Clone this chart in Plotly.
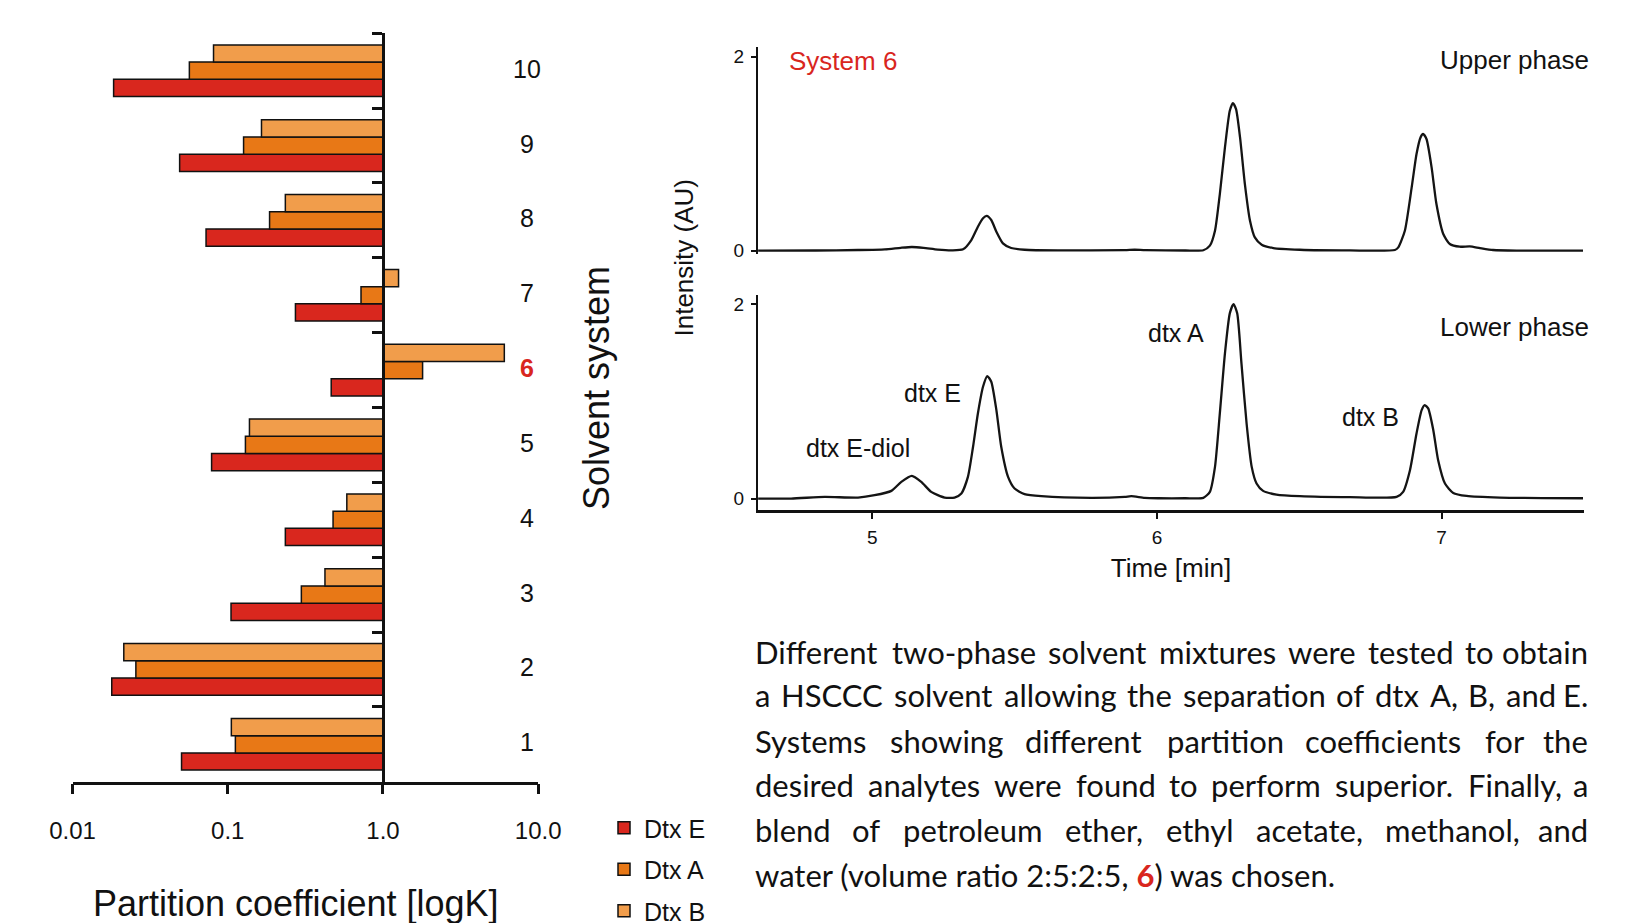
import struct
import subprocess

import numpy as np
import plotly.graph_objects as go

W, H = 1632, 923


def PX(x):
    return x / W


def PY(y):
    return 1 - y / H


# ---------------- data ----------------
systems = [1, 2, 3, 4, 5, 6, 7, 8, 9, 10]
system_labels = ["1", "2", "3", "4", "5", "6", "7", "8", "9", "10"]
dtx_e = [0.0504, 0.0179, 0.105, 0.235, 0.0787, 0.464, 0.273, 0.0725, 0.049, 0.0184]
dtx_a = [0.112, 0.0256, 0.298, 0.477, 0.130, 1.80, 0.722, 0.186, 0.1265, 0.0566]
dtx_b = [0.1055, 0.0214, 0.423, 0.585, 0.138, 6.05, 1.26, 0.235, 0.165, 0.081]
k_tick_vals = [0.01, 0.1, 1.0, 10.0]
k_tick_text = ["0.01", "0.1", "1.0", "10.0"]

upper_time = [4.599, 4.800, 4.950, 5.044, 5.100, 5.139, 5.180, 5.230, 5.280, 5.319,
              5.348, 5.371, 5.389, 5.402, 5.418, 5.436, 5.459, 5.488, 5.535, 5.652,
              5.887, 5.922, 5.960, 6.100, 6.163, 6.186, 6.204, 6.221, 6.239, 6.256,
              6.267, 6.278, 6.292, 6.309, 6.327, 6.344, 6.368, 6.409, 6.502, 6.678,
              6.836, 6.848, 6.871, 6.895, 6.912, 6.926, 6.935, 6.947, 6.965, 6.982,
              7.006, 7.029, 7.064, 7.099, 7.135, 7.181, 7.263, 7.497]
upper_int = [0.000, 0.002, 0.007, 0.014, 0.030, 0.038, 0.030, 0.012, 0.004, 0.014,
             0.110, 0.247, 0.334, 0.358, 0.316, 0.196, 0.076, 0.028, 0.010, 0.003,
             0.006, 0.010, 0.005, 0.002, 0.005, 0.052, 0.206, 0.584, 1.065, 1.443,
             1.522, 1.460, 1.168, 0.687, 0.309, 0.137, 0.062, 0.027, 0.010, 0.003,
             0.007, 0.034, 0.206, 0.653, 0.997, 1.168, 1.203, 1.151, 0.859, 0.481,
             0.172, 0.069, 0.041, 0.045, 0.027, 0.007, 0.000, 0.000]

lower_time = [4.599, 4.715, 4.833, 4.950, 5.008, 5.067, 5.102, 5.139, 5.172, 5.207,
              5.254, 5.289, 5.313, 5.336, 5.354, 5.371, 5.389, 5.404, 5.418, 5.436,
              5.453, 5.477, 5.500, 5.535, 5.594, 5.769, 5.887, 5.910, 5.957, 6.004,
              6.100, 6.163, 6.186, 6.204, 6.221, 6.239, 6.256, 6.269, 6.282, 6.297,
              6.315, 6.333, 6.350, 6.373, 6.420, 6.502, 6.678, 6.842, 6.865, 6.889,
              6.912, 6.930, 6.941, 6.953, 6.971, 6.988, 7.012, 7.041, 7.088, 7.205,
              7.497]
lower_int = [0.000, 0.000, 0.017, 0.010, 0.034, 0.079, 0.172, 0.234, 0.172, 0.069,
             0.010, 0.010, 0.052, 0.223, 0.533, 0.876, 1.151, 1.261, 1.203, 0.911,
             0.533, 0.223, 0.103, 0.045, 0.024, 0.007, 0.017, 0.024, 0.007, 0.003,
             0.003, 0.007, 0.069, 0.326, 0.876, 1.495, 1.907, 2.003, 1.907, 1.392,
             0.773, 0.326, 0.155, 0.079, 0.041, 0.024, 0.014, 0.017, 0.069, 0.292,
             0.670, 0.911, 0.962, 0.928, 0.704, 0.395, 0.155, 0.058, 0.027, 0.010,
             0.003]
time_ticks = [5, 6, 7]
int_ticks = [0, 2]

peak_labels = ["dtx E-diol", "dtx E", "dtx A", "dtx B"]

paragraph_lines = [
    "Different two-phase solvent mixtures were tested to obtain",
    "a HSCCC solvent allowing the separation of dtx A, B, and E.",
    "Systems showing different partition coefficients for the",
    "desired analytes were found to perform superior. Finally, a",
    "blend of petroleum ether, ethyl acetate, methanol, and",
]
last_line_plain = "water (volume ratio 2:5:2:5, 6) was chosen."
last_line = "water (volume ratio 2:5:2:5, <span style='color:#D9261E'><b>6</b></span>) was chosen."

# ---------------- styles / layout positions ----------------
RED = "#D9261E"
C_E, C_A, C_B = "#D9271E", "#E87816", "#F19D4B"
INK = "#111111"
ARIAL = "Liberation Sans, Arial, sans-serif"
PARA_FONT = "Lato"
PARA = "Lato, Noto Sans, sans-serif"
PARA_LEFT, PARA_RIGHT = 753, 1590
LAST_LINE_RIGHT = 1359
line_y = [651.5, 695.3, 740.5, 785.3, 829.8, 874.6]


# ---- text measuring from the installed font file (layout helper only) ----
def _font_widths(family):
    try:
        path = subprocess.run(["fc-match", "-f", "%{file}", family], capture_output=True,
                              text=True, timeout=5).stdout.strip()
        data = open(path, "rb").read()
        ntab = struct.unpack(">H", data[4:6])[0]
        tabs = {}
        for i in range(ntab):
            tag, _, off, ln = struct.unpack(">4sIII", data[12 + 16 * i:28 + 16 * i])
            tabs[tag.decode("latin1")] = off
        upem = struct.unpack(">H", data[tabs["head"] + 18:tabs["head"] + 20])[0]
        nhm = struct.unpack(">H", data[tabs["hhea"] + 34:tabs["hhea"] + 36])[0]
        ho = tabs["hmtx"]
        adv = [struct.unpack(">H", data[ho + 4 * i:ho + 4 * i + 2])[0] for i in range(nhm)]
        co = tabs["cmap"]
        nsub = struct.unpack(">H", data[co + 2:co + 4])[0]
        cmap = {}
        for i in range(nsub):
            pid, eid, soff = struct.unpack(">HHI", data[co + 4 + 8 * i:co + 12 + 8 * i])
            st = co + soff
            if struct.unpack(">H", data[st:st + 2])[0] != 4:
                continue
            seg2 = struct.unpack(">H", data[st + 6:st + 8])[0]
            seg = seg2 // 2
            ends = struct.unpack(">%dH" % seg, data[st + 14:st + 14 + seg2])
            starts = struct.unpack(">%dH" % seg, data[st + 16 + seg2:st + 16 + 2 * seg2])
            deltas = struct.unpack(">%dh" % seg, data[st + 16 + 2 * seg2:st + 16 + 3 * seg2])
            rpos = st + 16 + 3 * seg2
            roffs = struct.unpack(">%dH" % seg, data[rpos:rpos + seg2])
            for s in range(seg):
                for c in range(starts[s], min(ends[s], 0x24F) + 1):
                    if roffs[s] == 0:
                        g = (c + deltas[s]) & 0xFFFF
                    else:
                        a = rpos + 2 * s + roffs[s] + 2 * (c - starts[s])
                        g = struct.unpack(">H", data[a:a + 2])[0]
                        if g:
                            g = (g + deltas[s]) & 0xFFFF
                    cmap[c] = g
            break
        if not cmap:
            raise ValueError

        def w(ch):
            g = cmap.get(ord(ch), 0)
            return adv[min(g, nhm - 1)] / upem
        return w
    except Exception:
        return lambda ch: 0.25 if ch == " " else 0.5


_cw = _font_widths(PARA_FONT)


def text_em(s):
    return sum(_cw(c) for c in s)


# choose the size from the natural-width last line, keep line 1 within the column
para_size = (LAST_LINE_RIGHT - PARA_LEFT) / text_em(last_line_plain)
para_size = min(para_size, (PARA_RIGHT - PARA_LEFT) / text_em(paragraph_lines[0]))
para_size = max(25.0, min(31.0, para_size))

fig = go.Figure()

for name, vals, col in [("Dtx E", dtx_e, C_E), ("Dtx A", dtx_a, C_A), ("Dtx B", dtx_b, C_B)]:
    fig.add_trace(go.Bar(
        y=systems, x=np.log10(vals), orientation="h", name=name,
        legendgroup=name,
        marker=dict(color=col, line=dict(color="#111111", width=1.5)),
        xaxis="x", yaxis="y", hoverinfo="skip",
    ))

fig.add_trace(go.Scatter(x=lower_time, y=lower_int, mode="lines", xaxis="x2", yaxis="y2",
                         line=dict(color="#141414", width=2.3, shape="spline", smoothing=0.6),
                         showlegend=False, hoverinfo="skip"))
fig.add_trace(go.Scatter(x=upper_time, y=upper_int, mode="lines", xaxis="x3", yaxis="y3",
                         line=dict(color="#141414", width=2.3, shape="spline", smoothing=0.6),
                         showlegend=False, hoverinfo="skip"))

ann = []
for s, lab in zip(systems, system_labels):
    is6 = lab == "6"
    ann.append(dict(x=PX(527), xref="paper", y=s, yref="y", text=f"<b>{lab}</b>" if is6 else lab,
                    showarrow=False, xanchor="center", yanchor="middle", yshift=2,
                    font=dict(family=ARIAL, size=25, color=RED if is6 else INK)))
ann.append(dict(x=PX(596), y=PY(388), xref="paper", yref="paper", text="Solvent system",
                textangle=-90, showarrow=False, xanchor="center", yanchor="middle",
                font=dict(family=ARIAL, size=36, color=INK)))
ann.append(dict(x=PX(295.5), y=PY(903), xref="paper", yref="paper", text="Partition coefficient [logK]",
                showarrow=False, xanchor="center", yanchor="middle",
                font=dict(family=ARIAL, size=36, color=INK)))
ann.append(dict(x=PX(683), y=PY(257.5), xref="paper", yref="paper", text="Intensity (AU)",
                textangle=-90, showarrow=False, xanchor="center", yanchor="middle",
                font=dict(family=ARIAL, size=26, color=INK)))
ann.append(dict(x=PX(787), y=PY(60.5), xref="paper", yref="paper", text="System 6",
                showarrow=False, xanchor="left", yanchor="middle",
                font=dict(family=ARIAL, size=26, color=RED)))
ann.append(dict(x=PX(1591), y=PY(60), xref="paper", yref="paper", text="Upper phase",
                showarrow=False, xanchor="right", yanchor="middle",
                font=dict(family=ARIAL, size=26, color=INK)))
ann.append(dict(x=PX(1591), y=PY(327), xref="paper", yref="paper", text="Lower phase",
                showarrow=False, xanchor="right", yanchor="middle",
                font=dict(family=ARIAL, size=26, color=INK)))
for lab, (x, y) in zip(peak_labels, [(858.3, 448), (932.5, 393), (1176, 333), (1370, 416.5)]):
    ann.append(dict(x=PX(x), y=PY(y), xref="paper", yref="paper", text=lab,
                    showarrow=False, xanchor="center", yanchor="middle",
                    font=dict(family=ARIAL, size=25, color=INK)))

# justified paragraph: words spread with equal gaps between the column edges
for line, ly in zip(paragraph_lines, line_y):
    words = line.split(" ")
    widths = [text_em(w) * para_size for w in words]
    gap = (PARA_RIGHT - PARA_LEFT - sum(widths)) / (len(words) - 1)
    x = PARA_LEFT
    for i, (wd, wpx) in enumerate(zip(words, widths)):
        last = i == len(words) - 1
        ann.append(dict(x=PX(PARA_RIGHT if last else x), y=PY(ly), xref="paper", yref="paper",
                        text=wd, showarrow=False, xanchor="right" if last else "left",
                        yanchor="middle", font=dict(family=PARA, size=para_size, color=INK)))
        x += wpx + gap
ann.append(dict(x=PX(PARA_LEFT), y=PY(line_y[5]), xref="paper", yref="paper", text=last_line,
                showarrow=False, xanchor="left", yanchor="middle",
                font=dict(family=PARA, size=para_size, color=INK)))

fig.update_layout(
    width=W, height=H, margin=dict(l=0, r=0, t=0, b=0, autoexpand=False),
    paper_bgcolor="white", plot_bgcolor="rgba(0,0,0,0)",
    barmode="group", bargap=0.31, bargroupgap=0,
    font=dict(family=ARIAL, color=INK),
    xaxis=dict(domain=[PX(72.5), PX(538.2)], range=[-2, 1], anchor="y",
               tickvals=list(np.log10(k_tick_vals)), ticktext=k_tick_text,
               ticks="outside", ticklen=10, tickwidth=2.5, tickcolor=INK,
               showline=True, linewidth=2.5, linecolor=INK, automargin=False,
               showgrid=False, zeroline=False, tickfont=dict(size=24, family=ARIAL, color=INK),
               ticklabelstandoff=16),
    yaxis=dict(domain=[PY(781.7), PY(33.3)], range=[0.5, 10.5], anchor="free",
               position=PX(383.2), tickvals=[1.5, 2.5, 3.5, 4.5, 5.5, 6.5, 7.5, 8.5, 9.5, 10.5],
               ticks="outside", ticklen=10, tickwidth=2.5, tickcolor=INK, automargin=False,
               showticklabels=False, showline=True, linewidth=2.5, linecolor=INK,
               showgrid=False, zeroline=False),
    xaxis2=dict(domain=[PX(758), PX(1584)], range=[4.5985, 7.5004], anchor="y2",
                tickvals=time_ticks, ticks="outside", ticklen=6, tickwidth=2, tickcolor=INK,
                showline=True, linewidth=3, linecolor=INK, showgrid=False, zeroline=False,
                tickfont=dict(size=19, family=ARIAL, color=INK), automargin=False,
                ticklabelstandoff=2,
                title=dict(text="Time [min]", font=dict(size=26, family=ARIAL, color=INK), standoff=13)),
    yaxis2=dict(domain=[PY(510), PY(295)], range=[-0.118, 2.096], anchor="x2",
                tickvals=int_ticks, ticks="outside", ticklen=5, tickwidth=2, tickcolor=INK,
                showline=True, linewidth=2, linecolor=INK, showgrid=False, zeroline=False,
                tickfont=dict(size=19, family=ARIAL, color=INK), automargin=False,
                ticklabelstandoff=3),
    xaxis3=dict(domain=[PX(758), PX(1584)], matches="x2", anchor="y3", visible=False),
    yaxis3=dict(domain=[PY(254), PY(46.7)], range=[-0.034, 2.103], anchor="x3",
                tickvals=int_ticks, ticks="outside", ticklen=5, tickwidth=2, tickcolor=INK,
                showline=True, linewidth=2, linecolor=INK, showgrid=False, zeroline=False,
                tickfont=dict(size=19, family=ARIAL, color=INK), automargin=False,
                ticklabelstandoff=3),
    legend=dict(x=PX(604), y=PY(805), xanchor="left", yanchor="top",
                traceorder="grouped", tracegroupgap=6, bgcolor="rgba(0,0,0,0)",
                font=dict(size=25, family=ARIAL, color=INK)),
    annotations=ann,
    showlegend=True,
)

fig.write_html("out.html", config={"displayModeBar": False},
               post_script="document.body.style.margin='0';document.body.style.overflow='hidden';")
